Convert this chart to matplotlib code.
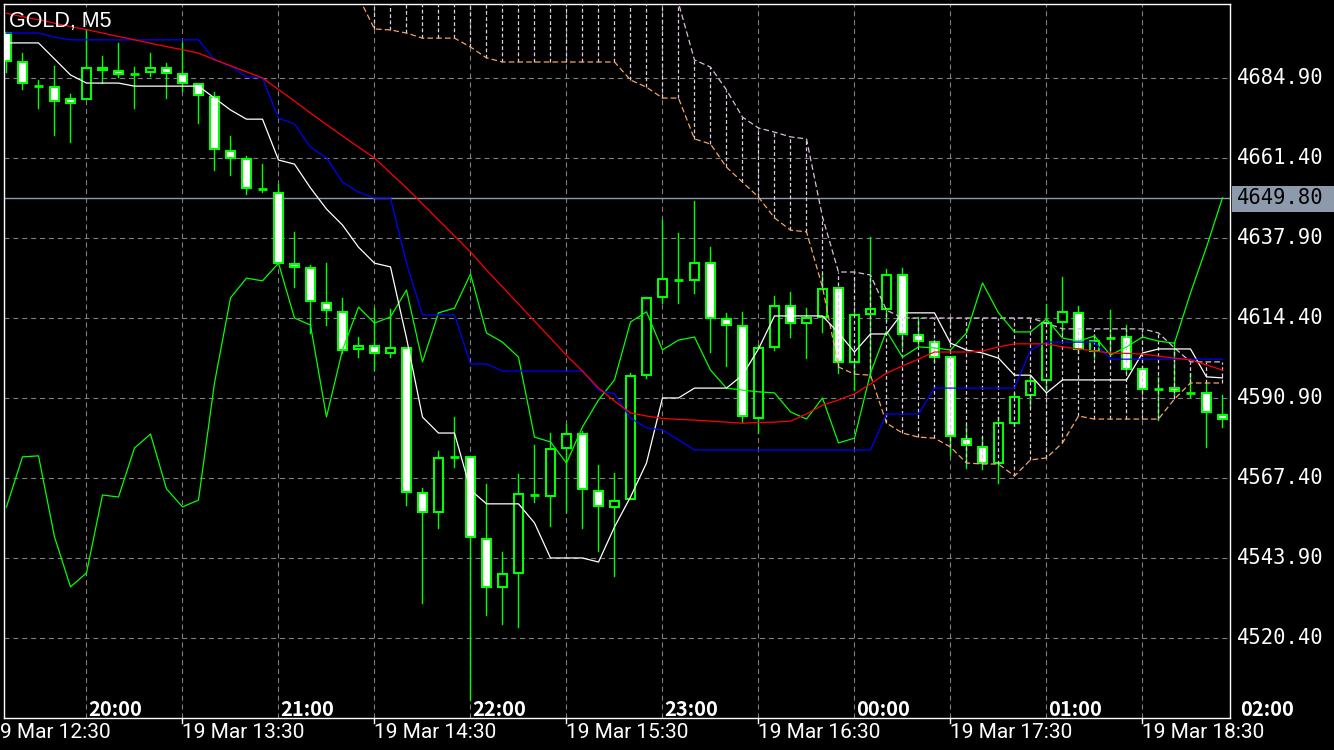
import matplotlib
matplotlib.use("Agg")
import matplotlib.pyplot as plt
from matplotlib.patches import Rectangle
from matplotlib.transforms import blended_transform_factory

# ---- data (GOLD M5, 77 visible bars) ----
title = "GOLD, M5"
current_price = 4649.80

opens = [4698.2, 4689.7, 4682.6, 4682.3, 4678.8, 4678.8, 4687.9, 4687.0, 4686.3, 4686.8,
         4687.9, 4686.2, 4683.2, 4679.4, 4663.5, 4661.2, 4652.4, 4651.2, 4630.4, 4629.2,
         4618.9, 4616.3, 4605.4, 4606.3, 4604.2, 4605.7, 4563.1, 4557.5, 4573.7, 4573.7,
         4549.6, 4535.5, 4539.6, 4562.5, 4562.2, 4576.3, 4580.4, 4563.7, 4559.0, 4561.3,
         4597.7, 4620.7, 4625.7, 4625.7, 4630.6, 4614.2, 4612.1, 4585.1, 4606.0, 4618.0,
         4613.0, 4614.8, 4623.3, 4601.6, 4615.7, 4617.1, 4627.1, 4609.5, 4607.4, 4603.0,
         4578.9, 4576.6, 4571.9, 4583.6, 4591.9, 4596.3, 4613.3, 4616.0, 4604.8, 4608.6,
         4608.9, 4599.5, 4593.6, 4593.9, 4592.5, 4592.5, 4586.0]
highs = [4698.5, 4692.3, 4684.4, 4688.5, 4680.3, 4699.4, 4691.5, 4695.3, 4688.2, 4692.3,
         4689.4, 4695.3, 4683.2, 4680.9, 4668.0, 4662.1, 4659.7, 4653.9, 4639.8, 4630.1,
         4630.6, 4620.4, 4608.9, 4617.4, 4617.1, 4605.7, 4564.6, 4575.4, 4585.4, 4573.7,
         4565.7, 4545.8, 4568.7, 4577.2, 4580.7, 4583.4, 4581.3, 4571.3, 4569.0, 4598.3,
         4620.7, 4643.3, 4639.5, 4648.9, 4635.3, 4616.0, 4616.3, 4606.6, 4621.0, 4622.1,
         4617.4, 4627.4, 4623.6, 4616.3, 4638.3, 4628.9, 4629.2, 4614.8, 4608.0, 4603.0,
         4583.1, 4579.5, 4585.4, 4592.5, 4597.7, 4618.6, 4626.5, 4618.0, 4609.5, 4616.8,
         4612.4, 4600.4, 4597.2, 4607.4, 4598.3, 4595.4, 4591.9]
lows = [4686.8, 4681.8, 4676.2, 4668.2, 4666.2, 4678.8, 4683.5, 4685.3, 4676.2, 4685.6,
        4679.1, 4681.2, 4671.8, 4658.0, 4656.5, 4650.9, 4651.5, 4630.6, 4623.6, 4610.1,
        4612.4, 4604.2, 4603.0, 4599.2, 4603.0, 4559.6, 4530.8, 4552.8, 4570.7, 4502.3,
        4527.2, 4524.6, 4523.7, 4560.4, 4553.4, 4557.5, 4552.8, 4546.0, 4538.7, 4561.3,
        4596.9, 4618.9, 4618.9, 4621.8, 4604.5, 4600.4, 4583.9, 4580.7, 4605.1, 4608.9,
        4602.7, 4610.4, 4598.3, 4593.3, 4597.2, 4613.9, 4606.0, 4606.6, 4601.6, 4574.2,
        4570.4, 4570.1, 4566.0, 4582.8, 4588.3, 4593.3, 4610.1, 4604.2, 4602.7, 4604.2,
        4598.6, 4592.8, 4584.5, 4591.9, 4591.3, 4576.6, 4582.5]
closes = [4690.0, 4683.5, 4682.6, 4678.2, 4677.6, 4687.9, 4687.3, 4686.2, 4686.3, 4687.9,
          4686.5, 4683.5, 4680.0, 4664.1, 4661.5, 4652.7, 4652.4, 4630.6, 4629.5, 4619.5,
          4616.8, 4605.1, 4606.3, 4604.2, 4605.7, 4563.4, 4557.5, 4573.4, 4573.7, 4550.2,
          4535.5, 4539.3, 4562.8, 4562.5, 4576.0, 4580.4, 4564.3, 4559.3, 4560.7, 4597.5,
          4620.4, 4625.9, 4625.7, 4630.6, 4614.5, 4612.4, 4585.7, 4605.7, 4618.0, 4613.0,
          4614.5, 4623.0, 4601.6, 4615.4, 4617.1, 4627.1, 4609.8, 4607.7, 4603.0, 4579.8,
          4577.2, 4571.9, 4583.6, 4591.3, 4596.0, 4613.0, 4616.3, 4605.4, 4607.7, 4608.6,
          4599.5, 4593.6, 4593.6, 4593.0, 4592.5, 4586.9, 4584.8]

red_line = [4704.0, 4703.0, 4702.1, 4701.1, 4700.1, 4699.2, 4698.2, 4697.2, 4696.2, 4695.2,
            4694.2, 4693.3, 4692.3, 4690.4, 4688.6, 4686.8, 4685.0, 4681.6, 4678.2, 4674.7,
            4671.3, 4668.0, 4664.7, 4661.5, 4657.1, 4652.7, 4648.0, 4643.3, 4638.6, 4633.9,
            4628.6, 4623.6, 4618.6, 4613.6, 4608.6, 4603.5, 4598.9, 4593.9, 4590.1, 4586.6,
            4585.7, 4585.0, 4584.7, 4584.5, 4584.2, 4583.9, 4583.6, 4583.8, 4583.9, 4584.2,
            4586.3, 4588.9, 4590.4, 4592.2, 4595.1, 4598.3, 4600.4, 4602.4, 4604.5, 4604.5,
            4604.5, 4604.8, 4606.0, 4606.9, 4606.9, 4606.9, 4606.0, 4605.4, 4604.8, 4604.2,
            4604.1, 4603.9, 4603.3, 4602.7, 4602.2, 4600.7, 4599.2]
blue_line = [4698.2, 4698.2, 4698.2, 4697.0, 4696.2, 4696.2, 4696.2, 4696.2, 4696.2, 4696.2,
             4696.2, 4696.2, 4696.2, 4690.3, 4688.5, 4685.3, 4685.0, 4673.2, 4671.5, 4664.7,
             4661.5, 4654.4, 4651.5, 4649.7, 4649.7, 4630.6, 4615.4, 4615.4, 4615.4, 4601.0,
             4601.0, 4598.9, 4598.9, 4598.9, 4598.9, 4598.9, 4598.9, 4593.3, 4592.2, 4585.1,
             4582.2, 4581.6, 4578.7, 4575.7, 4575.7, 4575.7, 4575.7, 4575.7, 4575.7, 4575.7,
             4575.7, 4575.7, 4575.7, 4575.7, 4575.7, 4586.3, 4586.3, 4586.3, 4593.9, 4593.9,
             4593.9, 4593.9, 4593.9, 4593.9, 4605.1, 4607.4, 4607.4, 4607.4, 4607.4, 4602.4,
             4602.4, 4602.4, 4602.4, 4602.4, 4602.4, 4602.4, 4602.4]
white_line = [4695.3, 4695.3, 4695.3, 4690.6, 4685.9, 4683.5, 4683.5, 4683.5, 4682.6, 4682.6,
              4682.6, 4682.6, 4682.6, 4679.1, 4675.6, 4672.9, 4672.9, 4660.9, 4659.7, 4652.7,
              4646.5, 4641.8, 4635.3, 4630.6, 4629.5, 4608.6, 4585.4, 4580.7, 4580.7, 4564.0,
              4559.9, 4559.9, 4559.9, 4554.3, 4544.0, 4544.0, 4544.0, 4542.8, 4553.1, 4561.9,
              4571.9, 4591.0, 4591.0, 4593.9, 4593.9, 4593.9, 4597.7, 4605.4, 4615.1, 4615.1,
              4615.1, 4615.1, 4610.1, 4604.5, 4609.8, 4609.8, 4616.0, 4616.0, 4616.0, 4607.1,
              4605.1, 4604.2, 4602.7, 4597.7, 4597.7, 4592.5, 4596.3, 4596.3, 4596.3, 4596.3,
              4596.3, 4604.2, 4605.4, 4605.4, 4605.4, 4597.2, 4596.9]
chikou = [4559.0, 4573.7, 4574.0, 4550.2, 4535.5, 4539.6, 4562.5, 4561.9, 4576.3, 4580.4,
          4564.3, 4559.0, 4561.0, 4595.4, 4620.4, 4626.2, 4625.4, 4630.6, 4614.5, 4612.4,
          4585.4, 4605.1, 4617.7, 4613.0, 4614.8, 4622.7, 4601.6, 4616.0, 4617.4, 4627.4,
          4610.1, 4607.4, 4603.0, 4579.5, 4578.1, 4571.9, 4582.5, 4590.4, 4596.3, 4613.3,
          4616.3, 4605.1, 4608.0, 4608.9, 4599.2, 4593.9, 4593.3, 4592.8, 4592.5, 4586.9,
          4584.8, 4591.0, 4577.8, 4579.2, 4598.3, 4610.7, 4603.0, 4606.0, 4605.7, 4605.1,
          4610.1, 4624.8, 4616.0, 4610.4, 4610.4, 4614.2, 4608.6, 4607.7, 4609.2, 4603.6,
          4606.0, 4608.9, 4607.7, 4607.1, 4621.8, 4635.3, 4649.8]

cloud_start = 22
span_a = [4708.8, 4699.4, 4699.1, 4698.2, 4696.7, 4696.7, 4696.7, 4694.1, 4690.9, 4689.7,
          4689.7, 4689.7, 4689.7, 4689.7, 4689.7, 4689.7, 4689.7, 4684.4, 4682.3, 4679.1,
          4679.1, 4667.1, 4665.6, 4658.8, 4654.4, 4650.0, 4643.9, 4640.3, 4639.8, 4623.6,
          4600.1, 4598.0, 4597.7, 4583.6, 4580.7, 4579.5, 4579.2, 4576.6, 4571.9, 4571.6,
          4571.6, 4568.1, 4572.8, 4573.4, 4577.8, 4585.7, 4584.8, 4584.8, 4584.8, 4584.8,
          4584.8, 4590.7, 4595.4, 4595.4, 4595.4]
span_b = [4712.0, 4712.0, 4712.0, 4712.0, 4712.0, 4712.0, 4712.0, 4712.0, 4712.0, 4712.0,
          4712.0, 4712.0, 4712.0, 4712.0, 4712.0, 4712.0, 4712.0, 4712.0, 4712.0, 4712.0,
          4707.0, 4690.3, 4688.2, 4681.5, 4673.5, 4670.3, 4669.1, 4667.7, 4667.1, 4644.2,
          4628.0, 4628.0, 4627.1, 4616.8, 4614.5, 4614.5, 4614.5, 4614.5, 4614.5, 4614.5,
          4614.5, 4614.5, 4614.5, 4613.0, 4611.3, 4611.3, 4611.3, 4611.3, 4611.3, 4611.3,
          4610.1, 4605.7, 4601.6, 4601.6, 4601.6]

price_ticks = [4684.90, 4661.40, 4637.90, 4614.40, 4590.90, 4567.40, 4543.90, 4520.40]
grid_bars = [5, 11, 17, 23, 29, 35, 41, 47, 53, 59, 65, 71]
hour_bars = [5, 17, 29, 41, 53, 65, 77]
hour_labels = ["20:00", "21:00", "22:00", "23:00", "00:00", "01:00", "02:00"]
date_bars = [11, 23, 35, 47, 59, 71]
date_labels = ["19 Mar 13:30", "19 Mar 14:30", "19 Mar 15:30",
               "19 Mar 16:30", "19 Mar 17:30", "19 Mar 18:30"]
first_date_label = "9 Mar 12:30"   # shown cut off at the left edge

# ---- figure ----
W, H = 1334, 750
fig = plt.figure(figsize=(W / 100, H / 100), dpi=100, facecolor="black")
ax = fig.add_axes([4 / W, 32 / H, 1226 / W, 714 / H], facecolor="black")
ax.set_xlim(-0.156, 76.47)
ax.set_ylim(4496.99, 4706.73)
ax.set_xticks([])
ax.set_yticks([])
for s in ax.spines.values():
    s.set_color("white")
    s.set_linewidth(1.0)

grid_kw = dict(color="#808080", lw=0.8, ls=(0, (4.5, 3.5)), zorder=0.5)
for p in price_ticks:
    ax.axhline(p, **grid_kw)
for b in grid_bars:
    ax.axvline(b, **grid_kw)

ax.axhline(current_price, color="#8c9aab", lw=1.0, zorder=1)

# candles
green = "#00ff00"
body_w = 0.52
for i in range(len(opens)):
    o, h, l, c = opens[i], highs[i], lows[i], closes[i]
    ax.plot([i, i], [l, h], color=green, lw=1.0, zorder=2)
    if abs(c - o) < 0.3:
        ax.plot([i - body_w / 2, i + body_w / 2], [o, o], color=green, lw=2.0,
                solid_capstyle="butt", zorder=2.2)
    else:
        face = "black" if c > o else "white"
        ax.add_patch(Rectangle((i - body_w / 2, min(o, c)), body_w, abs(c - o),
                               facecolor=face, edgecolor=green, lw=1.5, zorder=2.2))

# ichimoku cloud
cloud_x = list(range(cloud_start, cloud_start + len(span_a)))
ax.vlines(cloud_x, span_a, span_b, colors="#e0cce0", lw=0.9, linestyles=(0, (3, 2)), zorder=3)
ax.plot(cloud_x, span_a, color="#f4a460", lw=0.9, ls=(0, (4.5, 2.5)), zorder=3.1)
ax.plot(cloud_x, span_b, color="#d8bfd8", lw=0.9, ls=(0, (4.5, 2.5)), zorder=3.1)

bars = list(range(len(opens)))
ax.plot(bars, chikou, color=green, lw=0.9, zorder=4)
ax.plot(bars, white_line, color="white", lw=0.9, zorder=4)
ax.plot(bars, blue_line, color="#0000ff", lw=0.9, zorder=4)
ax.plot(bars, red_line, color="#ff0000", lw=0.9, zorder=4)

# texts
fig.text(9 / W, 1 - 21 / H, title, color="white", fontsize=15.5,
         family="Liberation Sans", va="center", ha="left")

ytr = blended_transform_factory(fig.transFigure, ax.transData)
for p in price_ticks:
    fig.text(1237 / W, p, f"{p:.2f}", transform=ytr, color="white", fontsize=14.8,
             family="DejaVu Sans Mono", va="center", ha="left")
fig.patches.append(Rectangle((1232 / W, 1 - 212 / H), 102 / W, 26 / H,
                             transform=fig.transFigure, facecolor="#8c9aab",
                             edgecolor="none", zorder=5))
fig.text(1237 / W, current_price, f"{current_price:.2f}", transform=ytr, color="black",
         fontsize=14.8, family="DejaVu Sans Mono", va="center", ha="left", zorder=6)

xtr = blended_transform_factory(ax.transData, fig.transFigure)
for b, lab in zip(hour_bars, hour_labels):
    fig.text(b + 0.12, 1 - 709 / H, lab, transform=xtr, color="white", fontsize=14.5,
             family="Noto Sans CJK JP", weight="bold", va="center", ha="left")
fig.text(0.5 / W, 1 - 733 / H, first_date_label, color="white", fontsize=15,
         family="Roboto", va="center", ha="left")
for b, lab in zip(date_bars, date_labels):
    fig.text(b, 1 - 733 / H, lab, transform=xtr, color="white", fontsize=15,
             family="Roboto", va="center", ha="left")
    fig.lines.append(plt.Line2D([b, b], [1 - 718 / H, 1 - 723 / H], transform=xtr,
                                color="white", lw=1.0))

fig.savefig("out.png", dpi=100, facecolor="black")
